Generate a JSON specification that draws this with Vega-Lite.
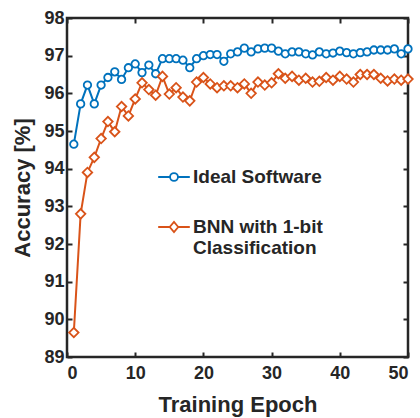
{
  "$schema": "https://vega.github.io/schema/vega-lite/v6.json",
  "width": 341,
  "height": 339,
  "autosize": "none",
  "padding": {"left": 67, "top": 18, "right": 12, "bottom": 61},
  "background": "white",
  "config": {
    "view": {"stroke": "#262626", "strokeWidth": 2.5},
    "font": "Liberation Sans",
    "axis": {
      "grid": false,
      "domain": false,
      "tickColor": "#262626",
      "tickWidth": 2,
      "tickSize": -5,
      "labelFont": "Liberation Sans",
      "labelFontWeight": "bold",
      "labelFontSize": 18,
      "labelColor": "#262626",
      "titleFont": "Liberation Sans",
      "titleFontWeight": "bold",
      "titleFontSize": 22,
      "titleColor": "#262626"
    }
  },
  "data": {"values": [
    {"epoch":1,"series":"Ideal Software","acc":94.65},
    {"epoch":2,"series":"Ideal Software","acc":95.72},
    {"epoch":3,"series":"Ideal Software","acc":96.22},
    {"epoch":4,"series":"Ideal Software","acc":95.72},
    {"epoch":5,"series":"Ideal Software","acc":96.22},
    {"epoch":6,"series":"Ideal Software","acc":96.42},
    {"epoch":7,"series":"Ideal Software","acc":96.57},
    {"epoch":8,"series":"Ideal Software","acc":96.37},
    {"epoch":9,"series":"Ideal Software","acc":96.68},
    {"epoch":10,"series":"Ideal Software","acc":96.78},
    {"epoch":11,"series":"Ideal Software","acc":96.55},
    {"epoch":12,"series":"Ideal Software","acc":96.75},
    {"epoch":13,"series":"Ideal Software","acc":96.52},
    {"epoch":14,"series":"Ideal Software","acc":96.92},
    {"epoch":15,"series":"Ideal Software","acc":96.92},
    {"epoch":16,"series":"Ideal Software","acc":96.92},
    {"epoch":17,"series":"Ideal Software","acc":96.88},
    {"epoch":18,"series":"Ideal Software","acc":96.68},
    {"epoch":19,"series":"Ideal Software","acc":96.92},
    {"epoch":20,"series":"Ideal Software","acc":97.0},
    {"epoch":21,"series":"Ideal Software","acc":97.03},
    {"epoch":22,"series":"Ideal Software","acc":97.03},
    {"epoch":23,"series":"Ideal Software","acc":96.85},
    {"epoch":24,"series":"Ideal Software","acc":97.05},
    {"epoch":25,"series":"Ideal Software","acc":97.1},
    {"epoch":26,"series":"Ideal Software","acc":97.2},
    {"epoch":27,"series":"Ideal Software","acc":97.1},
    {"epoch":28,"series":"Ideal Software","acc":97.18},
    {"epoch":29,"series":"Ideal Software","acc":97.2},
    {"epoch":30,"series":"Ideal Software","acc":97.2},
    {"epoch":31,"series":"Ideal Software","acc":97.12},
    {"epoch":32,"series":"Ideal Software","acc":97.05},
    {"epoch":33,"series":"Ideal Software","acc":97.1},
    {"epoch":34,"series":"Ideal Software","acc":97.1},
    {"epoch":35,"series":"Ideal Software","acc":97.05},
    {"epoch":36,"series":"Ideal Software","acc":97.02},
    {"epoch":37,"series":"Ideal Software","acc":97.1},
    {"epoch":38,"series":"Ideal Software","acc":97.05},
    {"epoch":39,"series":"Ideal Software","acc":97.07},
    {"epoch":40,"series":"Ideal Software","acc":97.12},
    {"epoch":41,"series":"Ideal Software","acc":97.08},
    {"epoch":42,"series":"Ideal Software","acc":97.05},
    {"epoch":43,"series":"Ideal Software","acc":97.08},
    {"epoch":44,"series":"Ideal Software","acc":97.1},
    {"epoch":45,"series":"Ideal Software","acc":97.15},
    {"epoch":46,"series":"Ideal Software","acc":97.15},
    {"epoch":47,"series":"Ideal Software","acc":97.15},
    {"epoch":48,"series":"Ideal Software","acc":97.18},
    {"epoch":49,"series":"Ideal Software","acc":97.05},
    {"epoch":50,"series":"Ideal Software","acc":97.18},
    {"epoch":1,"series":"BNN with 1-bit Classification","acc":89.65},
    {"epoch":2,"series":"BNN with 1-bit Classification","acc":92.8},
    {"epoch":3,"series":"BNN with 1-bit Classification","acc":93.9},
    {"epoch":4,"series":"BNN with 1-bit Classification","acc":94.3},
    {"epoch":5,"series":"BNN with 1-bit Classification","acc":94.8},
    {"epoch":6,"series":"BNN with 1-bit Classification","acc":95.25},
    {"epoch":7,"series":"BNN with 1-bit Classification","acc":94.98},
    {"epoch":8,"series":"BNN with 1-bit Classification","acc":95.65},
    {"epoch":9,"series":"BNN with 1-bit Classification","acc":95.4},
    {"epoch":10,"series":"BNN with 1-bit Classification","acc":95.85},
    {"epoch":11,"series":"BNN with 1-bit Classification","acc":96.28},
    {"epoch":12,"series":"BNN with 1-bit Classification","acc":96.1},
    {"epoch":13,"series":"BNN with 1-bit Classification","acc":95.95},
    {"epoch":14,"series":"BNN with 1-bit Classification","acc":96.45},
    {"epoch":15,"series":"BNN with 1-bit Classification","acc":95.98},
    {"epoch":16,"series":"BNN with 1-bit Classification","acc":96.15},
    {"epoch":17,"series":"BNN with 1-bit Classification","acc":95.9},
    {"epoch":18,"series":"BNN with 1-bit Classification","acc":95.8},
    {"epoch":19,"series":"BNN with 1-bit Classification","acc":96.3},
    {"epoch":20,"series":"BNN with 1-bit Classification","acc":96.42},
    {"epoch":21,"series":"BNN with 1-bit Classification","acc":96.25},
    {"epoch":22,"series":"BNN with 1-bit Classification","acc":96.15},
    {"epoch":23,"series":"BNN with 1-bit Classification","acc":96.2},
    {"epoch":24,"series":"BNN with 1-bit Classification","acc":96.2},
    {"epoch":25,"series":"BNN with 1-bit Classification","acc":96.15},
    {"epoch":26,"series":"BNN with 1-bit Classification","acc":96.25},
    {"epoch":27,"series":"BNN with 1-bit Classification","acc":96.0},
    {"epoch":28,"series":"BNN with 1-bit Classification","acc":96.3},
    {"epoch":29,"series":"BNN with 1-bit Classification","acc":96.22},
    {"epoch":30,"series":"BNN with 1-bit Classification","acc":96.28},
    {"epoch":31,"series":"BNN with 1-bit Classification","acc":96.52},
    {"epoch":32,"series":"BNN with 1-bit Classification","acc":96.4},
    {"epoch":33,"series":"BNN with 1-bit Classification","acc":96.45},
    {"epoch":34,"series":"BNN with 1-bit Classification","acc":96.35},
    {"epoch":35,"series":"BNN with 1-bit Classification","acc":96.4},
    {"epoch":36,"series":"BNN with 1-bit Classification","acc":96.3},
    {"epoch":37,"series":"BNN with 1-bit Classification","acc":96.32},
    {"epoch":38,"series":"BNN with 1-bit Classification","acc":96.42},
    {"epoch":39,"series":"BNN with 1-bit Classification","acc":96.35},
    {"epoch":40,"series":"BNN with 1-bit Classification","acc":96.45},
    {"epoch":41,"series":"BNN with 1-bit Classification","acc":96.38},
    {"epoch":42,"series":"BNN with 1-bit Classification","acc":96.3},
    {"epoch":43,"series":"BNN with 1-bit Classification","acc":96.5},
    {"epoch":44,"series":"BNN with 1-bit Classification","acc":96.5},
    {"epoch":45,"series":"BNN with 1-bit Classification","acc":96.5},
    {"epoch":46,"series":"BNN with 1-bit Classification","acc":96.4},
    {"epoch":47,"series":"BNN with 1-bit Classification","acc":96.33},
    {"epoch":48,"series":"BNN with 1-bit Classification","acc":96.38},
    {"epoch":49,"series":"BNN with 1-bit Classification","acc":96.35},
    {"epoch":50,"series":"BNN with 1-bit Classification","acc":96.38}
  ]},
  "layer": [
    {
      "mark": {"type": "line", "strokeWidth": 2},
      "encoding": {
        "x": {"field": "epoch", "type": "quantitative", "scale": {"domain": [0, 50], "nice": false},
              "axis": {"orient": "bottom", "values": [0,10,20,30,40,50], "title": "Training Epoch", "labelPadding": 12, "titlePadding": 12}},
        "y": {"field": "acc", "type": "quantitative", "scale": {"domain": [89, 98], "nice": false, "zero": false},
              "axis": {"orient": "left", "values": [89,90,91,92,93,94,95,96,97,98], "title": "Accuracy [%]", "labelPadding": 8, "titlePadding": 9}},
        "color": {"field": "series", "type": "nominal",
                  "scale": {"domain": ["Ideal Software", "BNN with 1-bit Classification"], "range": ["#0072BD", "#D95319"]},
                  "legend": null},
        "detail": {"field": "series"}
      }
    },
    {
      "mark": {"type": "point", "filled": false, "fill": "white", "fillOpacity": 1, "strokeWidth": 1.8, "opacity": 1},
      "encoding": {
        "x": {"field": "epoch", "type": "quantitative",
              "axis": {"orient": "top", "values": [0,10,20,30,40,50], "labels": false, "title": null}},
        "y": {"field": "acc", "type": "quantitative",
              "axis": {"orient": "right", "values": [89,90,91,92,93,94,95,96,97,98], "labels": false, "title": null}},
        "color": {"field": "series", "type": "nominal", "legend": null},
        "shape": {"field": "series", "type": "nominal",
                  "scale": {"domain": ["Ideal Software", "BNN with 1-bit Classification"], "range": ["circle", "diamond"]},
                  "legend": null},
        "size": {"field": "series", "type": "nominal",
                 "scale": {"domain": ["Ideal Software", "BNN with 1-bit Classification"], "range": [56, 90]},
                 "legend": null}
      }
    },
    {
      "mark": {"type": "point", "filled": false, "opacity": 0, "strokeWidth": 1.8},
      "encoding": {
        "x": {"field": "epoch", "type": "quantitative", "axis": null},
        "y": {"field": "acc", "type": "quantitative", "axis": null},
        "color": {"field": "series", "type": "nominal",
                  "legend": {
                    "orient": "none", "legendX": 90, "legendY": 142, "title": null,
                    "symbolSize": 1000, "symbolStrokeWidth": 1.8, "symbolFillColor": "white", "symbolOpacity": 1,
                    "labelFont": "Liberation Sans", "labelFontWeight": "bold", "labelFontSize": 19, "labelColor": "#262626",
                    "labelLimit": 300, "rowPadding": 23, "labelOffset": 2,
                    "labelExpr": "datum.label == 'BNN with 1-bit Classification' ? ['BNN with 1-bit', 'Classification'] : datum.label",
                    "encode": {"labels": {"update": {"lineHeight": {"value": 18}}}}
                  }},
        "shape": {"field": "series", "type": "nominal",
                  "scale": {"domain": ["Ideal Software", "BNN with 1-bit Classification"],
                            "range": ["M-1,0H-0.25M0.25,0H1M0.25,0A0.25,0.25,0,1,1,-0.25,0A0.25,0.25,0,1,1,0.25,0Z", "M-1,0H-0.27M0.27,0H1M0.27,0L0,-0.32L-0.27,0L0,0.32Z"]},
                  "legend": {
                    "orient": "none", "legendX": 90, "legendY": 142, "title": null,
                    "symbolSize": 1000, "symbolStrokeWidth": 1.8, "symbolFillColor": "white", "symbolOpacity": 1,
                    "labelFont": "Liberation Sans", "labelFontWeight": "bold", "labelFontSize": 19, "labelColor": "#262626",
                    "labelLimit": 300, "rowPadding": 23, "labelOffset": 2,
                    "labelExpr": "datum.label == 'BNN with 1-bit Classification' ? ['BNN with 1-bit', 'Classification'] : datum.label",
                    "encode": {"labels": {"update": {"lineHeight": {"value": 18}}}}
                  }}
      }
    }
  ],
  "resolve": {
    "axis": {"x": "independent", "y": "independent"},
    "legend": {"color": "independent", "shape": "independent"},
    "scale": {"shape": "independent"}
  }
}
